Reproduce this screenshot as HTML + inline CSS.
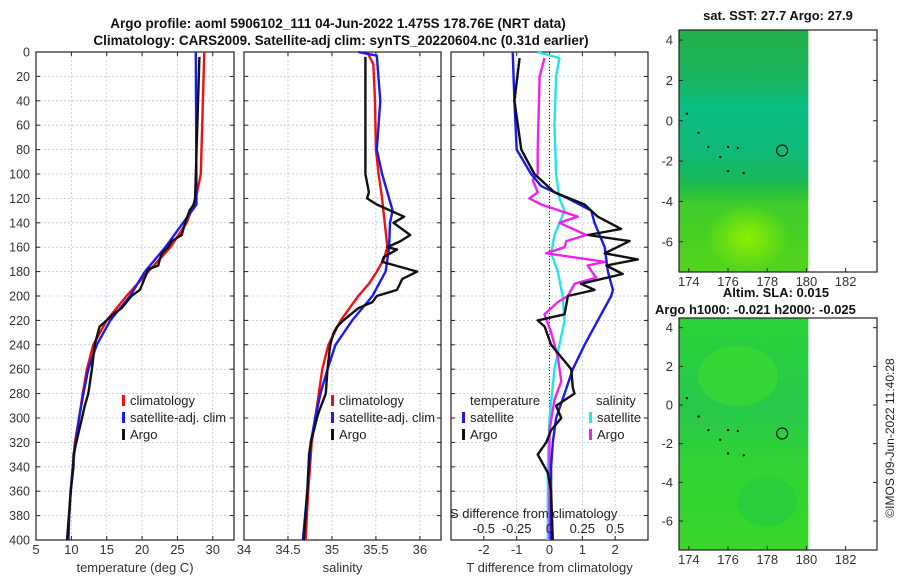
<!DOCTYPE html>
<html><head><meta charset="utf-8">
<style>
body{margin:0;background:#fff;}
svg{display:block;font-family:"Liberation Sans",sans-serif;}
</style></head>
<body>
<svg id="fig" width="900" height="580" xmlns="http://www.w3.org/2000/svg">
<defs>
<linearGradient id="g1" x1="0" y1="0" x2="0" y2="1">
<stop offset="0" stop-color="#22b04a"/><stop offset="0.18" stop-color="#1bb35a"/>
<stop offset="0.32" stop-color="#0cbd84"/><stop offset="0.5" stop-color="#0fba78"/>
<stop offset="0.62" stop-color="#18b758"/><stop offset="0.72" stop-color="#3fcc2a"/>
<stop offset="1" stop-color="#55d41c"/></linearGradient>
<radialGradient id="r1" cx="0.5" cy="0.5" r="0.5"><stop offset="0" stop-color="#8ef000"/><stop offset="1" stop-color="#8ef000" stop-opacity="0"/></radialGradient>
<linearGradient id="g2" x1="0" y1="0" x2="0" y2="1">
<stop offset="0" stop-color="#2ad23a"/><stop offset="0.4" stop-color="#28c84a"/>
<stop offset="0.6" stop-color="#30d236"/><stop offset="1" stop-color="#3ad62a"/></linearGradient>
</defs>
<g id="root"></g>
</svg>
<script>
// ---- data (depth in m) ----
const climDepth=[0,20,60,100,120,140,160,180,200,220,240,260,280,300,320,340,360,380,400];
const climTemp=[28.8,28.7,28.5,28.3,27.6,26.3,24,20.9,17.8,15,13.1,12.2,11.6,11.1,10.5,10.2,9.9,9.7,9.4];
const satDepth=[0,120,125,140,160,180,200,220,240,260,280,300,320,340,360,380,400];
const satTemp=[27.6,27.7,27.7,25.8,23.3,20.4,18.3,15.5,13.6,12.4,11.7,11.1,10.6,10.2,9.9,9.7,9.6];
const argoDepthT=[4,120,125,130,140,150,155,160,165,170,175,178,185,195,200,205,210,215,220,225,240,250,260,280,290,300,320,330,340,360,400];
const argoTemp=[28.1,27.5,27.3,26.7,26.1,25.6,24.2,23.7,22.8,22.5,22.3,20.9,20.4,19.7,18.5,17.8,17.1,15.9,15,14,13.3,13.1,12.9,12.4,11.9,11.5,10.7,10.3,10.3,9.9,9.4];
const climSDepth=[0,10,40,80,100,120,140,160,170,180,190,200,220,240,260,280,300,320,340,360,400];
const climSal=[35.40,35.47,35.49,35.5,35.53,35.57,35.6,35.63,35.59,35.51,35.42,35.3,35.1,34.96,34.89,34.85,34.81,34.77,34.75,34.73,34.7];
const satSDepth=[0,3,40,80,100,120,130,140,160,180,200,220,240,260,280,300,320,340,360,400];
const satSal=[35.30,35.51,35.55,35.51,35.57,35.65,35.69,35.66,35.65,35.61,35.46,35.23,35.04,34.95,34.87,34.81,34.76,34.74,34.72,34.67];
const argoSDepth=[4,100,115,120,125,135,140,150,155,160,162,168,172,175,180,186,195,200,205,210,220,225,230,240,260,280,295,300,320,330,360,400];
const argoSal=[35.38,35.38,35.42,35.40,35.51,35.82,35.70,35.89,35.78,35.63,35.74,35.59,35.57,35.72,35.97,35.80,35.74,35.51,35.46,35.3,35.13,35.06,35.02,34.98,34.95,34.93,34.85,34.83,34.76,34.74,34.72,34.68];
const dSatTDepth=[0,40,80,100,110,120,130,140,160,180,195,200,220,240,260,280,300,320,340,400];
const dSatT=[-1.12,-1.07,-1.0,-0.56,-0.25,0.56,1.27,1.37,1.68,1.78,1.93,1.88,1.47,1.07,0.71,0.46,0.2,0.1,0.05,0.05];
const dArgoTDepth=[5,40,80,100,115,125,135,145,150,155,165,170,175,182,190,195,200,215,220,225,240,260,275,280,290,300,310,320,330,345,360,400];
const dArgoT=[-0.91,-1.07,-0.86,-0.46,0.15,1.07,1.47,2.18,1.17,2.44,1.68,2.69,1.73,2.23,0.96,1.37,0.56,0.46,-0.36,-0.15,0.05,0.66,0.71,0.76,0.2,0.36,0.05,-0.1,-0.36,-0.05,0.05,0.1];
const dSatSDepth=[0,5,20,60,100,120,130,150,165,180,200,220,240,260,300,340,400];
const dSatS=[-0.09,0.075,0.05,0.038,0.05,0.075,0.115,0.038,0.013,0.063,0.10,0.115,0.075,0.038,0,-0.013,-0.013];
const dArgoSDepth=[5,20,80,100,105,115,120,125,135,140,150,155,160,165,172,175,185,190,200,205,215,230,250,270,285,310,340,400];
const dArgoS=[-0.038,-0.075,-0.09,-0.09,-0.128,-0.09,-0.153,-0.063,0.215,0.075,0.28,0.128,0.115,-0.025,0.42,0.29,0.355,0.19,0.14,0.063,-0.038,0.013,0.063,0.09,0.038,0,0,0];
const depthTicks=[0,20,40,60,80,100,120,140,160,180,200,220,240,260,280,300,320,340,360,380,400];
const tempTicks=[5,10,15,20,25,30];
const salTicks=[34,34.5,35,35.5,36];
const dTTicks=[-2,-1,0,1,2];
const dSTicks=[-0.5,-0.25,0,0.25,0.5];
const sShown=["-0.5","-0.25","0","0.25","0.5"];
const lonTicks=[174,176,178,180,182];
const latTicks=[4,2,0,-2,-4,-6];
const argoLon=178.76, argoLat=-1.475;

const NS="http://www.w3.org/2000/svg";
const root=document.getElementById('root');
function el(tag,attrs,parent,text){const e=document.createElementNS(NS,tag);for(const k in attrs)e.setAttribute(k,attrs[k]);if(text!==undefined)e.textContent=text;(parent||root).appendChild(e);return e;}
const Y0=52,Y1=540;
const yD=d=>Y0+(d/400)*(Y1-Y0);

function panel(name,x0,x1,xmin,xmax,ticks,labels,xlabel){
  const g=el('g',{},root);
  
  
  const sx=v=>x0+(v-xmin)/(xmax-xmin)*(x1-x0);
  depthTicks.forEach(d=>{if(d>0&&d<400){const l=el('line',{x1:x0,x2:x1,y1:yD(d),y2:yD(d),stroke:'#b8c4e8','stroke-width':0.8,'stroke-dasharray':'2,2'},g);}});
  ticks.forEach((t,i)=>{const x=sx(t);
    const l=el('line',{x1:x,x2:x,y1:Y0,y2:Y1,stroke:'#b8c4e8','stroke-width':0.8,'stroke-dasharray':'2,2'},g);
    
    if(labels){const tx=el('text',{x:x,y:Y1+14,'font-size':13,'text-anchor':'middle',fill:'#333'},g,labels[i]);}
    el('line',{x1:x,x2:x,y1:Y1,y2:Y1-4,stroke:'#222'},g);el('line',{x1:x,x2:x,y1:Y0,y2:Y0+4,stroke:'#222'},g);
  });
  depthTicks.forEach(d=>{el('line',{x1:x0,x2:x0+4,y1:yD(d),y2:yD(d),stroke:'#222'},g);el('line',{x1:x1,x2:x1-4,y1:yD(d),y2:yD(d),stroke:'#222'},g);});
  el('rect',{x:x0,y:Y0,width:x1-x0,height:Y1-Y0,fill:'none',stroke:'#222','stroke-width':1.2},g);
  if(xlabel){const t=el('text',{x:(x0+x1)/2,y:572,'font-size':13,'text-anchor':'middle',fill:'#333'},g,xlabel);}
  return {g,sx};
}
function line(p,name,depths,vals,color,w){
  const pts=depths.map((d,i)=>p.sx(vals[i]).toFixed(1)+','+yD(d).toFixed(1)).join(' ');
  const l=el('polyline',{points:pts,fill:'none',stroke:color,'stroke-width':w||2.4,'stroke-linejoin':'round'},p.g);
  
  
}
function legend(p,x,y,items){
  items.forEach((it,i)=>{
    el('rect',{x:x,y:y+i*17-9,width:3,height:11,fill:it[1]},p.g);
    const t=el('text',{x:x+8,y:y+i*17+1,'font-size':13,fill:'#222'},p.g,it[0]);
    
    
  });
}

let t=el('text',{x:338,y:28,'font-size':13.5,'font-weight':'bold','text-anchor':'middle',fill:'#111'},root,'Argo profile: aoml 5906102_111 04-Jun-2022 1.475S 178.76E (NRT data)');

t=el('text',{x:341,y:45,'font-size':13.5,'font-weight':'bold','text-anchor':'middle',fill:'#111'},root,'Climatology: CARS2009. Satellite-adj clim: synTS_20220604.nc (0.31d earlier)');


depthTicks.forEach(d=>{const tx=el('text',{x:30,y:yD(d)+4.5,'font-size':12.5,'text-anchor':'end',fill:'#333'},root,String(d));});

const p1=panel('temperature-panel',36,234,5,33,tempTicks,tempTicks.map(String),'temperature (deg C)');
line(p1,'climatology-temp-line',climDepth,climTemp,'#ee1111');
line(p1,'satellite-temp-line',satDepth,satTemp,'#1a1aee');
line(p1,'argo-temp-line',argoDepthT,argoTemp,'#111');
legend(p1,122,404,[['climatology','#ee1111'],['satellite-adj. clim','#1a1aee'],['Argo','#111']]);

const p2=panel('salinity-panel',244,441,34,36.24,salTicks,salTicks.map(String),'salinity');
line(p2,'climatology-salinity-line',climSDepth,climSal,'#ee1111');
line(p2,'satellite-salinity-line',satSDepth,satSal,'#1a1aee');
line(p2,'argo-salinity-line',argoSDepth,argoSal,'#111');
legend(p2,331,404,[['climatology','#ee1111'],['satellite-adj. clim','#1a1aee'],['Argo','#111']]);

const p3=panel('difference-panel',451,648,-3,3,dTTicks,dTTicks.map(String),'T difference from climatology');
const pS={g:p3.g,sx:v=>p3.sx(v*4)};
el('line',{x1:p3.sx(0),x2:p3.sx(0),y1:Y0,y2:Y1,stroke:'#333','stroke-width':1,'stroke-dasharray':'1,2'},p3.g);
line(pS,'satellite-salinity-diff-line',dSatSDepth,dSatS,'#22e4ee');
line(pS,'argo-salinity-diff-line',dArgoSDepth,dArgoS,'#ee22ee');
line(p3,'satellite-temp-diff-line',dSatTDepth,dSatT,'#1a1aee');
line(p3,'argo-temp-diff-line',dArgoTDepth,dArgoT,'#111');
t=el('text',{x:450,y:518,'font-size':13,fill:'#222'},p3.g,'S difference from climatology');
dSTicks.forEach((s,i)=>{const tx=el('text',{x:pS.sx(s),y:533,'font-size':13,'text-anchor':'middle',fill:'#222'},p3.g,sShown[i]);});
t=el('text',{x:470,y:405,'font-size':13,fill:'#222'},p3.g,'temperature');
t=el('text',{x:596,y:405,'font-size':13,fill:'#222'},p3.g,'salinity');
legend(p3,462,421,[['satellite','#1a1aee'],['Argo','#111']]);
legend(p3,589,421,[['satellite','#22e4ee'],['Argo','#ee22ee']]);

function map(name,top,bot,fill){
  const g=el('g',{},root);
  
  
  const x0=679,x1=877;
  const sx=v=>x0+(v-173.5)/(183.6-173.5)*(x1-x0);
  const sy=v=>top+(4.5-v)/(4.5+7.5)*(bot-top);
  el('rect',{x:x0,y:top,width:sx(180.1)-x0,height:bot-top,fill:fill},g);
  if(name==='sst-map'){el('ellipse',{cx:sx(177),cy:sy(-5.8),rx:42,ry:34,fill:'url(#r1)'},g);}
  else{el('ellipse',{cx:sx(176.5),cy:sy(1.5),rx:40,ry:30,fill:'#40dc30',opacity:0.6},g);el('ellipse',{cx:sx(178),cy:sy(-5),rx:30,ry:25,fill:'#20c848',opacity:0.5},g);}
  [[173.9,0.35],[174.5,-0.6],[175,-1.3],[175.6,-1.8],[176,-1.3],[176.5,-1.35],[176,-2.5],[176.8,-2.6]].forEach(c=>el('circle',{cx:sx(c[0]),cy:sy(c[1]),r:1.2,fill:'#111'},g));
  const c=el('circle',{cx:sx(argoLon),cy:sy(argoLat),r:5.5,fill:'none',stroke:'#111','stroke-width':1.2},g);
  
  lonTicks.forEach(v=>{el('line',{x1:sx(v),x2:sx(v),y1:bot,y2:bot-4,stroke:'#222'},g);
    const tx=el('text',{x:sx(v),y:bot+14,'font-size':13,'text-anchor':'middle',fill:'#333'},g,String(v));});
  latTicks.forEach(v=>{el('line',{x1:x0,x2:x0+4,y1:sy(v),y2:sy(v),stroke:'#222'},g);el('line',{x1:x1,x2:x1-4,y1:sy(v),y2:sy(v),stroke:'#222'},g);
    const tx=el('text',{x:673,y:sy(v)+4.5,'font-size':13,'text-anchor':'end',fill:'#333'},g,String(v));});
  el('rect',{x:x0,y:top,width:x1-x0,height:bot-top,fill:'none',stroke:'#222','stroke-width':1.2},g);
}
map('sst-map',30,272,'url(#g1)');
map('sla-map',318,550,'url(#g2)');
t=el('text',{x:778,y:20,'font-size':13,'font-weight':'bold','text-anchor':'middle',fill:'#111'},root,'sat. SST: 27.7 Argo: 27.9');
t=el('text',{x:776,y:297,'font-size':13,'font-weight':'bold','text-anchor':'middle',fill:'#111'},root,'Altim. SLA: 0.015');
t=el('text',{x:655,y:314,'font-size':13,'font-weight':'bold',fill:'#111'},root,'Argo h1000: -0.021 h2000: -0.025');
t=el('text',{x:0,y:0,'font-size':12,'text-anchor':'middle',fill:'#222',transform:'translate(894,438) rotate(-90)'},root,'©IMOS 09-Jun-2022 11:40:28');
</script>
</body></html>
